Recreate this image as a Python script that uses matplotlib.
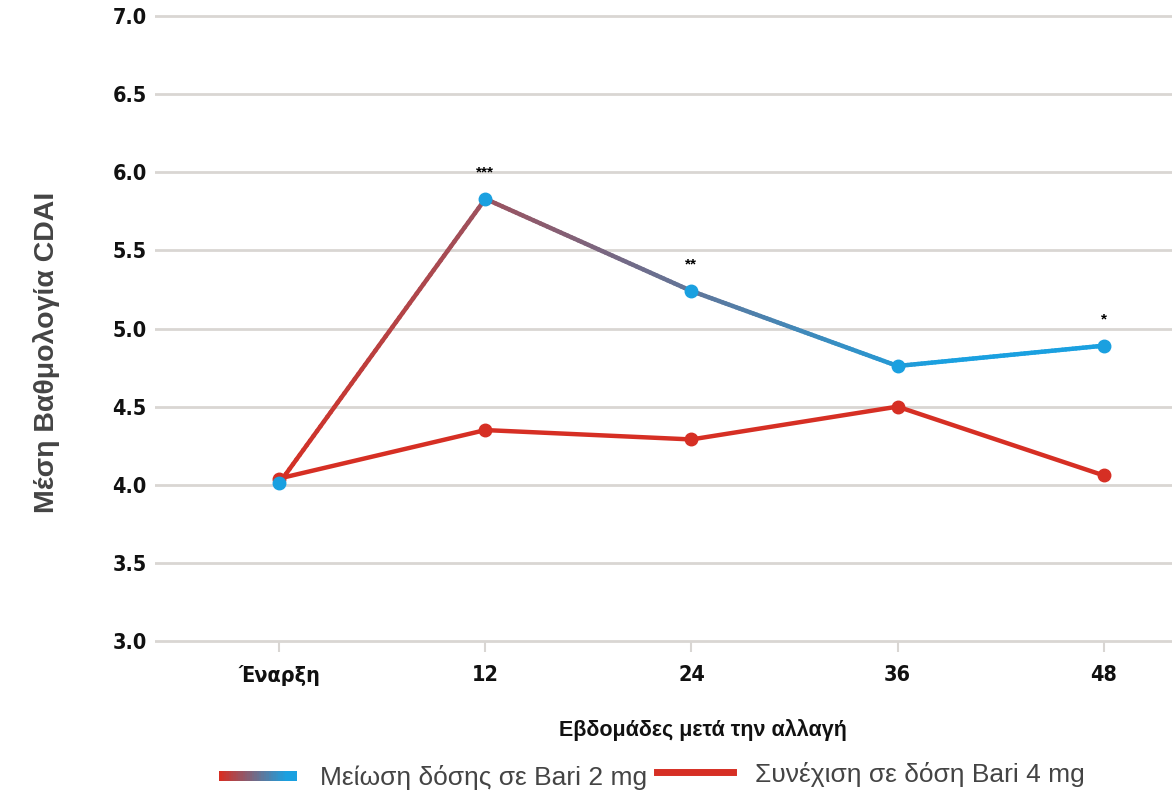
#!/usr/bin/env python3

import matplotlib
matplotlib.use("Agg")
import matplotlib.pyplot as plt
from matplotlib.collections import LineCollection
from matplotlib.colors import LinearSegmentedColormap
import numpy as np

# data
categories = ["Έναρξη", "12", "24", "36", "48"]
reduce_2mg = [4.01, 5.83, 5.24, 4.76, 4.89]
continue_4mg = [4.04, 4.35, 4.29, 4.50, 4.06]
stars = ["", "***", "**", "", "*"]
legend_labels = ["Μείωση δόσης σε Bari 2 mg", "Συνέχιση σε δόση Bari 4 mg"]

RED = "#d62f24"
BLUE = "#1aa0e0"
GRID = "#d9d6d3"
grad = LinearSegmentedColormap.from_list("redblue", [RED, BLUE])

plt.rcParams["font.family"] = ["Liberation Sans", "DejaVu Sans"]


def gradient_segments(xs, ys, steps=60):
    segs, vals = [], []
    for i in range(len(xs) - 1):
        t = np.linspace(0, 1, steps + 1)
        px = xs[i] + (xs[i + 1] - xs[i]) * t
        py = ys[i] + (ys[i + 1] - ys[i]) * t
        pts = np.column_stack([px, py])
        segs.extend(np.stack([pts[:-1], pts[1:]], axis=1))
        vals.extend(np.clip(px[:-1] / 3.2, 0, 1))
    return np.array(segs), np.array(vals)


def main():
    fig = plt.figure(figsize=(11.74, 7.91), dpi=100)
    ax = fig.add_axes([0.132, 0.1837, 0.866, 0.802])

    x = np.arange(len(categories))
    ax.set_xlim(-0.603, 4.33)
    ax.set_ylim(2.97, 7.03)

    ax.set_yticks(np.arange(3.0, 7.01, 0.5))
    ax.yaxis.grid(True, color=GRID, linewidth=2)
    ax.set_axisbelow(True)
    for s in ax.spines.values():
        s.set_visible(False)
    ax.spines["bottom"].set_position(("data", 3.0))

    tick_font = dict(family="DejaVu Sans", stretch="condensed", weight="bold", size=15.5)
    ax.set_yticklabels([f"{v:.1f}" for v in np.arange(3.0, 7.01, 0.5)], **tick_font)
    ax.set_xticks(x)
    ax.set_xticklabels(categories, **tick_font)
    ax.tick_params(axis="y", length=0, pad=6, labelcolor="#111111")
    ax.tick_params(axis="x", length=8, width=1.5, color=GRID, pad=9, labelcolor="#111111")

    # continued 4 mg
    ax.plot(x, continue_4mg, color=RED, linewidth=3.2, marker="o", markersize=9,
            zorder=3, solid_capstyle="round")

    # reduced 2 mg, gradient line
    segs, vals = gradient_segments(x, reduce_2mg)
    lc = LineCollection(segs, cmap=grad, linewidths=3.2, zorder=4, capstyle="round")
    lc.set_array(vals)
    lc.set_clim(0, 1)
    ax.add_collection(lc)
    ax.plot(x, reduce_2mg, linestyle="none", marker="o", markersize=9,
            color=BLUE, zorder=5)

    for xi, yi, s in zip(x, reduce_2mg, stars):
        if s:
            ax.annotate(s, (xi, yi), xytext=(0, 19), textcoords="offset points",
                        ha="center", va="center", fontsize=11, fontweight="bold")

    ax.set_ylabel("Μέση Βαθμολογία CDAI", fontsize=20.5, fontweight="bold",
                  color="#444444")
    ax.yaxis.set_label_coords(-0.093, 0.463)
    ax.set_xlabel("Εβδομάδες μετά την αλλαγή", fontsize=15.5, fontweight="bold",
                  color="#111111")
    ax.xaxis.set_label_coords(0.539, -0.115)

    # legend drawn by hand
    lx = np.linspace(0.191, 0.249, 30)
    lpts = np.column_stack([lx, np.full_like(lx, 0.019)])
    lsegs = np.stack([lpts[:-1], lpts[1:]], axis=1)
    llc = LineCollection(lsegs, cmap=grad, linewidths=6, capstyle="projecting",
                         antialiaseds=False, transform=fig.transFigure)
    llc.set_array(np.linspace(0, 1, len(lsegs)))
    llc.set_clim(0, 1)
    fig.add_artist(llc)
    fig.text(0.2726, 0.017, legend_labels[0], fontsize=19, color="#444444",
             va="center", ha="left")
    fig.add_artist(plt.Line2D([0.5596, 0.6244], [0.024, 0.024], color=RED,
                              linewidth=5, transform=fig.transFigure))
    fig.text(0.643, 0.021, legend_labels[1], fontsize=19, color="#444444",
             va="center", ha="left")

    fig.savefig("out.png", dpi=100)


if __name__ == "__main__":
    main()
